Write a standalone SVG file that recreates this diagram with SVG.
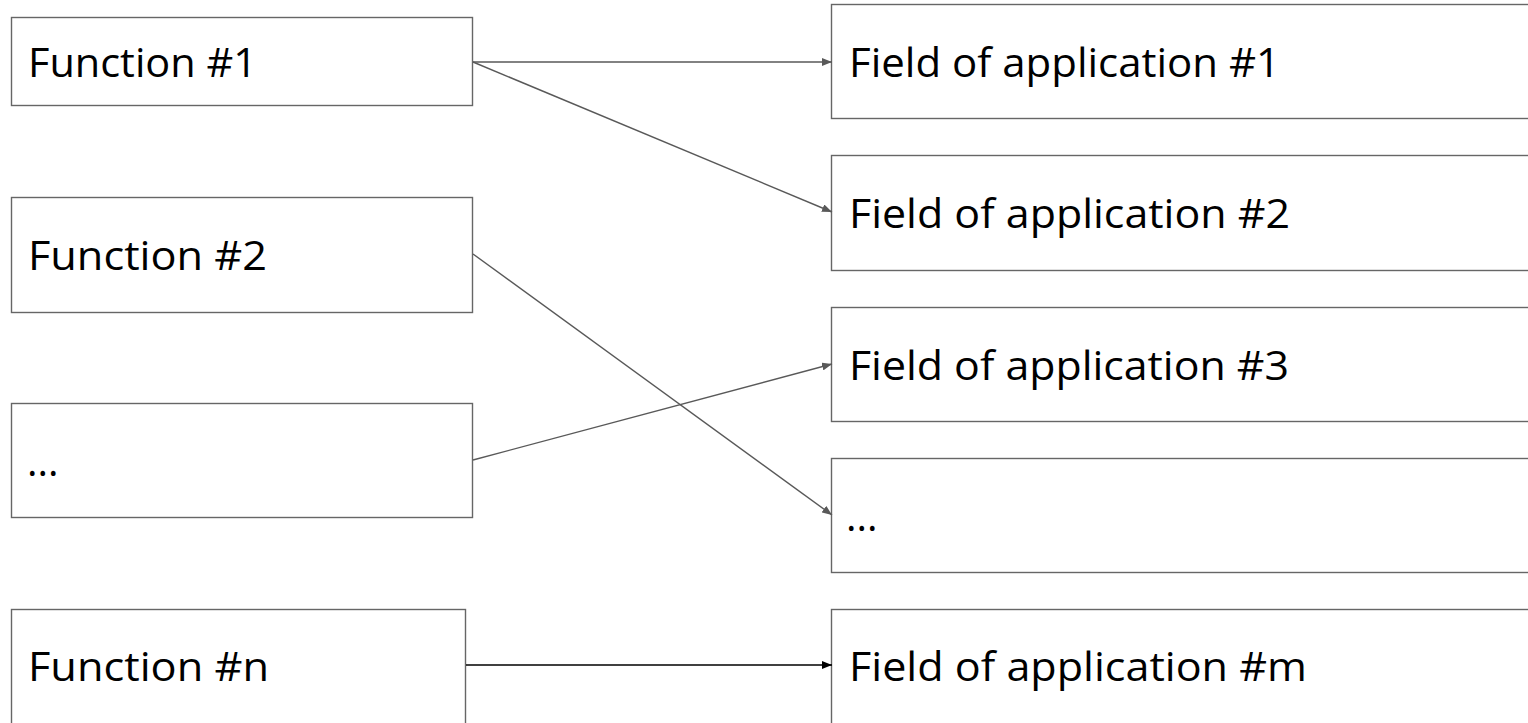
<svg xmlns="http://www.w3.org/2000/svg" width="1528" height="723" viewBox="0 0 1528 723">
<defs>
<marker id="ag" viewBox="0 0 10 8" refX="10" refY="4" markerWidth="10" markerHeight="8" markerUnits="userSpaceOnUse" orient="auto"><path d="M0,0 L10,4 L0,8 Z" fill="#595959"/></marker>
<marker id="ab" viewBox="0 0 10 8" refX="10" refY="4" markerWidth="10" markerHeight="8" markerUnits="userSpaceOnUse" orient="auto"><path d="M0,0 L10,4 L0,8 Z" fill="#000"/></marker>
</defs>
<style>
.box{fill:#fff;stroke:#666;stroke-width:1.4}
.t{font-family:"Open Sans","DejaVu Sans",sans-serif;font-size:40px;fill:#000}
.c{fill:none;stroke:#595959;stroke-width:1.4}
.cb{fill:none;stroke:#000;stroke-width:1.4}
</style>
<rect width="1528" height="723" fill="#fff"/>
<g id="f1"><rect class="box" x="11.5" y="17.5" width="461" height="88"/><text class="t" x="28" y="77" textLength="229" lengthAdjust="spacingAndGlyphs">Function #1</text></g>
<g id="f2"><rect class="box" x="11.5" y="197.5" width="461" height="115"/><text class="t" x="28" y="270" textLength="239" lengthAdjust="spacingAndGlyphs">Function #2</text></g>
<g id="fdots"><rect class="box" x="11.5" y="403.5" width="461" height="114"/><text class="t" x="27" y="476">...</text></g>
<g id="fn"><rect class="box" x="11.5" y="609.5" width="454" height="120"/><text class="t" x="28" y="681" textLength="241" lengthAdjust="spacingAndGlyphs">Function #n</text></g>
<g id="r1"><rect class="box" x="831.5" y="4.5" width="710" height="114"/><text class="t" x="849" y="77" textLength="431" lengthAdjust="spacingAndGlyphs">Field of application #1</text></g>
<g id="r2"><rect class="box" x="831.5" y="155.5" width="710" height="115"/><text class="t" x="849" y="228" textLength="441" lengthAdjust="spacingAndGlyphs">Field of application #2</text></g>
<g id="r3"><rect class="box" x="831.5" y="307.5" width="710" height="114"/><text class="t" x="849" y="380" textLength="440" lengthAdjust="spacingAndGlyphs">Field of application #3</text></g>
<g id="rdots"><rect class="box" x="831.5" y="458.5" width="710" height="114"/><text class="t" x="846" y="531">...</text></g>
<g id="rm"><rect class="box" x="831.5" y="609.5" width="710" height="120"/><text class="t" x="849" y="681" textLength="458" lengthAdjust="spacingAndGlyphs">Field of application #m</text></g>
<g id="connectors">
<line class="c" x1="473" y1="62" x2="832" y2="62" marker-end="url(#ag)"/>
<line class="c" x1="473" y1="62" x2="832" y2="212" marker-end="url(#ag)"/>
<line class="c" x1="473" y1="254" x2="832" y2="515" marker-end="url(#ag)"/>
<line class="c" x1="473" y1="460" x2="832" y2="364" marker-end="url(#ag)"/>
<line class="cb" x1="466" y1="665" x2="832" y2="665" marker-end="url(#ab)"/>
</g>
</svg>
